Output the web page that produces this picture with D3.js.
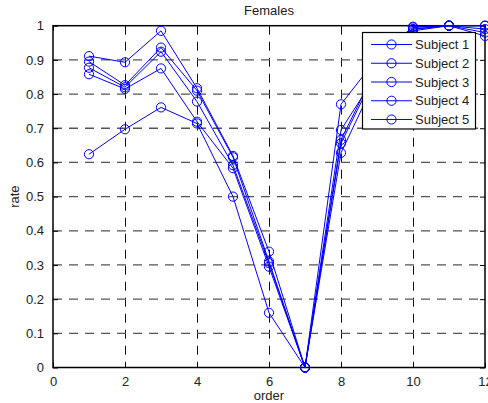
<!DOCTYPE html>
<html><head><meta charset="utf-8">
<script src="https://cdn.jsdelivr.net/npm/d3@7/dist/d3.min.js"></script>
<style>
html,body{margin:0;padding:0;background:#fff;}
svg{display:block;font-family:"Liberation Sans",Arial,sans-serif;}
</style></head>
<body>
<svg id="chart" width="488" height="403"></svg>
<script>
const orders = [1,2,3,4,5,6,7,8,9,10,11,12];
const subject1 = [0.911,0.893,0.985,0.817,0.619,0.339,0,0.770,0.905,0.997,1.000,1.000];
const subject2 = [0.895,0.826,0.936,0.810,0.615,0.310,0,0.695,0.860,0.990,1.000,0.980];
const subject3 = [0.877,0.820,0.924,0.778,0.592,0.305,0,0.666,0.880,0.985,1.000,0.990];
const subject4 = [0.858,0.815,0.875,0.719,0.583,0.295,0,0.656,0.870,0.990,1.000,0.970];
const subject5 = [0.624,0.697,0.761,0.714,0.500,0.160,0,0.628,0.850,0.995,1.000,1.000];
const seriesNames = ["Subject 1","Subject 2","Subject 3","Subject 4","Subject 5"];
const seriesValues = [subject1,subject2,subject3,subject4,subject5];
const xTicks = [0,2,4,6,8,10,12];
const yTicks = [0,0.1,0.2,0.3,0.4,0.5,0.6,0.7,0.8,0.9,1];
const yTickLabels = ["0","0.1","0.2","0.3","0.4","0.5","0.6","0.7","0.8","0.9","1"];

const svg = d3.select("#chart");
const L = 53, R = 485, T = 25.7, B = 367.5;
const x = d3.scaleLinear().domain([0,12]).range([L,R]);
const y = d3.scaleLinear().domain([0,1]).range([B,T]);
const blue = "#0000ff";

// grid
const g = svg.append("g");
g.selectAll(".vg").data(xTicks.filter(d=>d>0&&d<12)).enter().append("line")
  .attr("x1",d=>Math.round(x(d))+0.5).attr("x2",d=>Math.round(x(d))+0.5)
  .attr("y1",T).attr("y2",B)
  .attr("stroke","#111").attr("stroke-width",1).attr("stroke-dasharray","9,7");
g.selectAll(".hg").data(yTicks.filter(d=>d>0&&d<1)).enter().append("line")
  .attr("x1",L).attr("x2",R)
  .attr("y1",d=>y(d)).attr("y2",d=>y(d))
  .attr("stroke","#555").attr("stroke-width",1.3).attr("stroke-dasharray","9,7");

// axes using d3 axis, ticks inward
const axB = d3.axisBottom(x).tickValues(xTicks).tickSizeInner(-5).tickSizeOuter(0).tickPadding(9);
const axL = d3.axisLeft(y).tickValues(yTicks).tickFormat((d,i)=>yTickLabels[i]).tickSizeInner(-5).tickSizeOuter(0).tickPadding(9);
const axT = d3.axisTop(x).tickValues(xTicks).tickSizeInner(-5).tickSizeOuter(0).tickFormat("");
const axR = d3.axisRight(y).tickValues(yTicks).tickSizeInner(-5).tickSizeOuter(0).tickFormat("");
function styleAxis(sel){
  sel.select(".domain").remove();
  sel.selectAll("line").attr("stroke","#000");
  sel.selectAll("text").attr("fill","#222").style("font-size","13px").style("font-family","'Liberation Sans',Arial,sans-serif");
}
svg.append("g").attr("transform",`translate(0,${B})`).call(axB).call(styleAxis);
svg.append("g").attr("transform",`translate(${L},0)`).call(axL).call(styleAxis);
svg.append("g").attr("transform",`translate(0,${T})`).call(axT).call(styleAxis);
svg.append("g").attr("transform",`translate(${R},0)`).call(axR).call(styleAxis);
svg.append("rect").attr("x",L).attr("y",T).attr("width",R-L).attr("height",B-T)
  .attr("fill","none").attr("stroke","#000").attr("stroke-width",1.5);

// series
const line = d3.line().x((d,i)=>x(orders[i])).y(d=>y(d));
seriesValues.forEach((vals,si)=>{
  const sg = svg.append("g");
  sg.append("path").datum(vals).attr("d",line).attr("fill","none").attr("stroke",blue).attr("stroke-width",1);
  sg.selectAll("circle").data(vals).enter().append("circle")
    .attr("cx",(d,i)=>x(orders[i])).attr("cy",d=>y(d)).attr("r",4.6)
    .attr("fill","none").attr("stroke",blue).attr("stroke-width",1);
});

// title and labels
svg.append("text").attr("x",(L+R)/2).attr("y",15).attr("text-anchor","middle")
  .style("font-size","13px").attr("fill","#222").text("Females");
svg.append("text").attr("x",(L+R)/2).attr("y",400).attr("text-anchor","middle")
  .style("font-size","13px").attr("fill","#222").text("order");
svg.append("text").attr("transform",`translate(19,${(T+B)/2}) rotate(-90)`).attr("text-anchor","middle")
  .style("font-size","13px").attr("fill","#222").text("rate");

// legend
const lg = svg.append("g");
const lx = 362.5, ly = 32.5, lw = 113, lh = 96.5;
lg.append("rect").attr("x",lx).attr("y",ly).attr("width",lw).attr("height",lh)
  .attr("fill","#fff").attr("stroke","#000").attr("stroke-width",1.2);
seriesNames.forEach((name,i)=>{
  const yy = 44.5 + i*18.75;
  lg.append("line").attr("x1",371).attr("x2",412).attr("y1",yy).attr("y2",yy).attr("stroke",blue).attr("stroke-width",1);
  lg.append("circle").attr("cx",391.5).attr("cy",yy).attr("r",4.6).attr("fill","none").attr("stroke",blue);
  lg.append("text").attr("x",415).attr("y",yy+4.5).style("font-size","13px").attr("fill","#222").text(name);
});
</script>
</body></html>
